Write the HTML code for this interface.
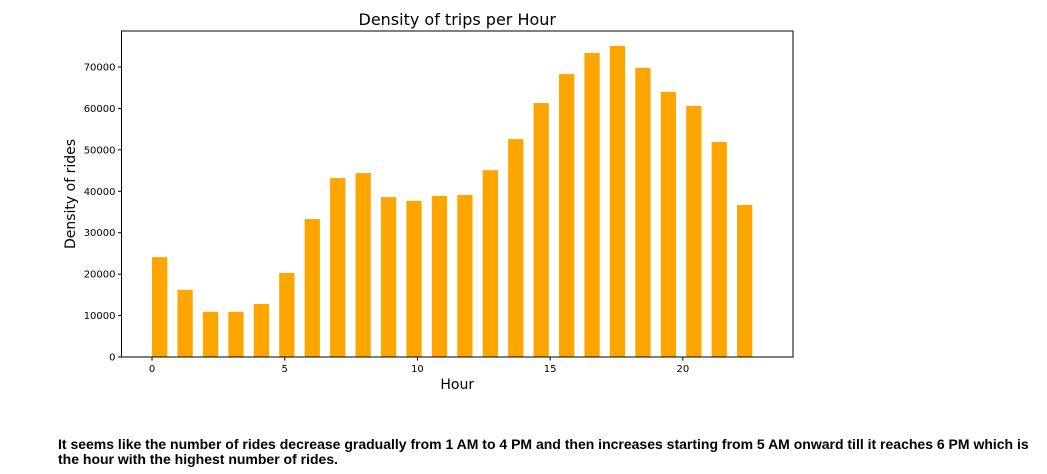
<!DOCTYPE html>
<html><head><meta charset="utf-8"><style>
body{margin:0;background:#fff;width:1047px;height:474px;overflow:hidden;font-family:"Liberation Sans","DejaVu Sans",sans-serif;}
#note{position:absolute;left:58px;top:437px;font-weight:bold;font-size:14px;line-height:15px;color:#000;width:985px;}
</style></head><body>
<svg id="chart" width="1047" height="430" style="position:absolute;left:0;top:0" font-family="DejaVu Sans, Liberation Sans, sans-serif"></svg>
<div id="note">It seems like the number of rides decrease gradually from 1 AM to 4 PM and then increases starting from 5 AM onward till it reaches 6 PM which is the hour with the highest number of rides.</div>
<script>
const binIndex=[0,1,2,3,4,5,6,7,8,9,10,11,12,13,14,15,16,17,18,19,20,21,22,23];
const densities=[24100,16200,10900,10900,12800,20300,33300,43200,44400,38600,37700,38900,39100,45100,52600,61300,68300,73400,75100,69800,64000,60600,51900,36700];
const yTicks=[0,10000,20000,30000,40000,50000,60000,70000];
const xTicks=[0,5,10,15,20];
const NS="http://www.w3.org/2000/svg";
const svg=document.getElementById('chart');
const L=121.5,R=793,T=31,B=357;
const xmin=-1.15,xmax=24.15;
const X=v=>L+(v-xmin)/(xmax-xmin)*(R-L);
const Y=v=>B-v*(290/70000);
function mk(tag,attrs){const e=document.createElementNS(NS,tag);for(const k in attrs)e.setAttribute(k,attrs[k]);svg.appendChild(e);return e;}
const bw=23/24;
binIndex.forEach((i,k)=>{
  const x0=X(i*bw), x1=X(i*bw+bw*0.6);
  const r=mk('rect',{x:x0,y:Y(densities[k]),width:x1-x0,height:B-Y(densities[k]),fill:'#ffa500'});
  
  
});
const frame=mk('rect',{x:L,y:T,width:R-L,height:B-T,fill:'none',stroke:'#000','stroke-width':1});


yTicks.forEach(v=>{
  mk('line',{x1:L-3.5,x2:L,y1:Y(v),y2:Y(v),stroke:'#000'});
  const t=mk('text',{x:L-6,y:Y(v)+3.5,'text-anchor':'end','font-size':10});
  t.textContent=v;
  
  
});
xTicks.forEach(v=>{
  mk('line',{x1:X(v),x2:X(v),y1:B,y2:B+3.5,stroke:'#000'});
  const t=mk('text',{x:X(v),y:B+15,'text-anchor':'middle','font-size':10});
  t.textContent=v;
  
  
});
const title=mk('text',{x:(L+R)/2,y:25,'text-anchor':'middle','font-size':16});
title.textContent='Density of trips per Hour';


const xl=mk('text',{x:(L+R)/2,y:389,'text-anchor':'middle','font-size':14});
xl.textContent='Hour';


const yl=mk('text',{x:0,y:0,'text-anchor':'middle','font-size':14,transform:`translate(75,${(T+B)/2}) rotate(-90)`});
yl.textContent='Density of rides';


</script>
</body></html>
